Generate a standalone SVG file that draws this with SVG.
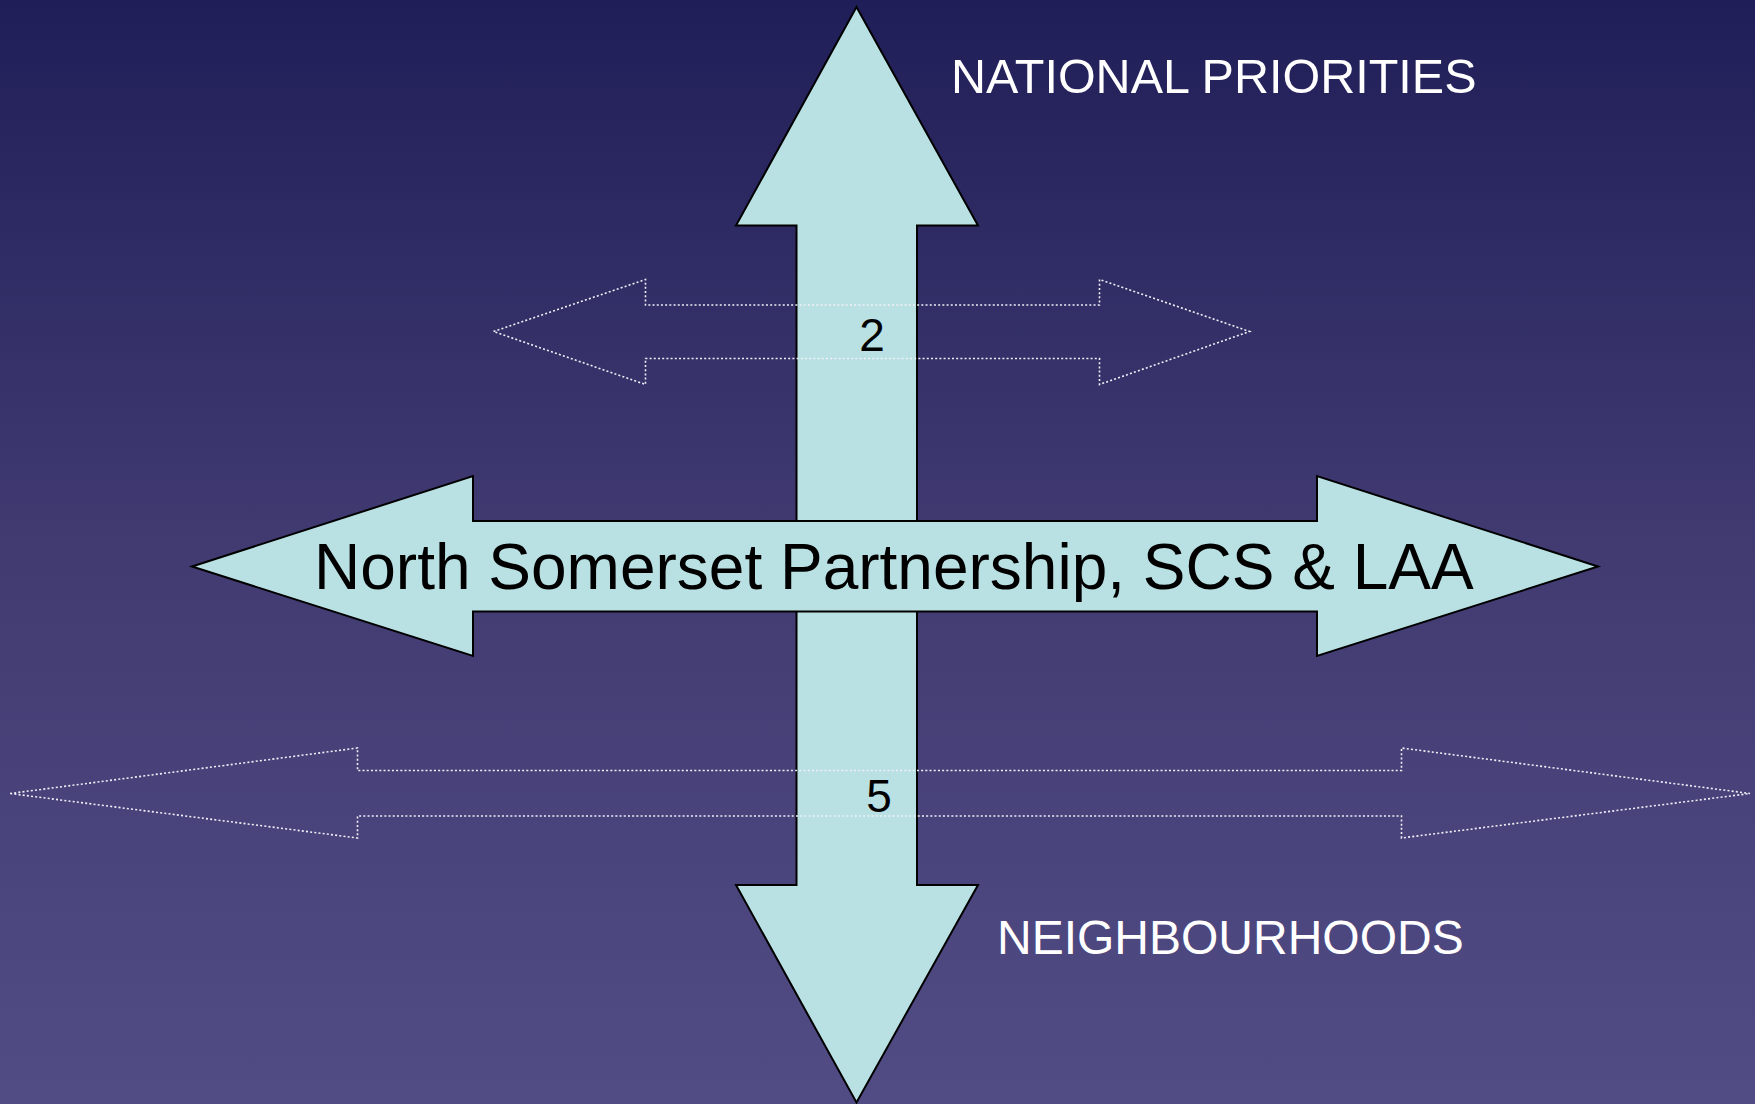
<svg xmlns="http://www.w3.org/2000/svg" width="1755" height="1104" viewBox="0 0 1755 1104">
  <defs>
    <linearGradient id="bg" x1="0" y1="0" x2="0" y2="1">
      <stop offset="0" stop-color="#201e58"/>
      <stop offset="0.5" stop-color="#413b72"/>
      <stop offset="1" stop-color="#524c85"/>
    </linearGradient>
    <style>
      .solid { fill: #b9e0e3; stroke: #000; stroke-width: 2; stroke-linejoin: miter; }
      .dotted { fill: none; stroke: #f0f0f8; stroke-width: 1.6; stroke-dasharray: 2 2.2; }
      .lbl { font-family: "Liberation Sans", Arial, sans-serif; }
      .white { fill: #ffffff; }
      .black { fill: #000000; }
    </style>
  </defs>
  <rect x="0" y="0" width="1755" height="1104" fill="url(#bg)"/>

  <g id="vertical-arrow">
    <polygon class="solid" points="856.5,7 978,225.5 917,225.5 917,885 978,885 856.5,1102.5 736,885 796.5,885 796.5,225.5 736,225.5"/>
  </g>

  <g id="main-arrow">
    <polygon class="solid" points="192,566.5 473,476 473,521 1317,521 1317,476 1598,566.5 1317,656 1317,611.5 473,611.5 473,656"/>
    <text class="lbl black" x="314" y="589" font-size="64">North Somerset Partnership, SCS &amp; LAA</text>
  </g>

  <g id="connectors">
    <polygon id="dotted-arrow-2" class="dotted" points="493.5,331.5 645.5,279.5 645.5,305 1099.5,305 1099.5,279.5 1249.5,331.5 1099.5,384.5 1099.5,358.5 645.5,358.5 645.5,384.5"/>
    <polygon id="dotted-arrow-5" class="dotted" points="10,793.5 357.5,748 357.5,770.5 1401.5,770.5 1401.5,748 1750,793.5 1401.5,838 1401.5,816 357.5,816 357.5,838"/>
  </g>

  <g id="label-2">
    <text class="lbl black" x="872" y="351" font-size="46" text-anchor="middle">2</text>
  </g>
  <g id="label-5">
    <text class="lbl black" x="879" y="811.5" font-size="46" text-anchor="middle">5</text>
  </g>

  <g id="national-priorities">
    <text class="lbl white" x="951" y="92.5" font-size="48.5">NATIONAL PRIORITIES</text>
  </g>
  <g id="neighbourhoods">
    <text class="lbl white" x="997" y="954.3" font-size="48">NEIGHBOURHOODS</text>
  </g>
</svg>
